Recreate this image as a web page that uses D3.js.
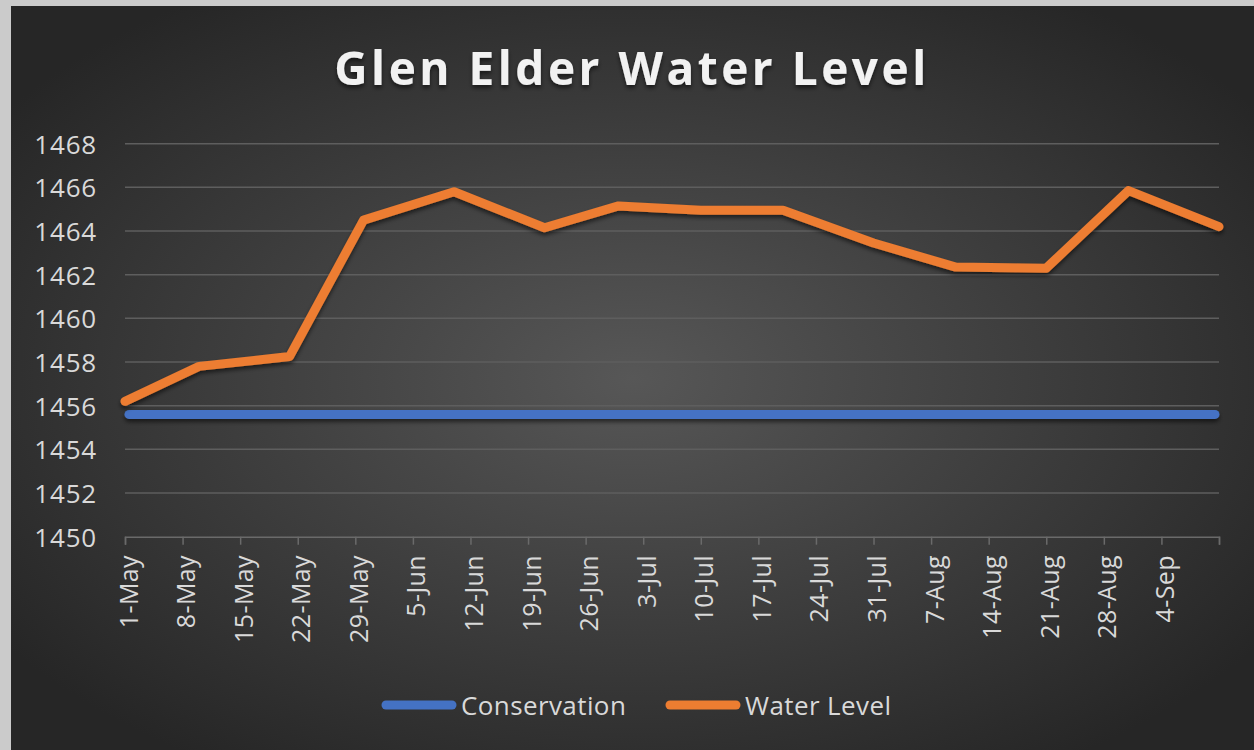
<!DOCTYPE html>
<html>
<head>
<meta charset="utf-8">
<script src="https://cdnjs.cloudflare.com/ajax/libs/d3/7.8.5/d3.min.js"></script>
<style>
  html, body { margin: 0; padding: 0; background: #cbcbcb; }
  svg { display: block; }
</style>
</head>
<body>
<svg id="chart"></svg>
<script>
// data
const dates = ["2019-05-01", "2019-05-10", "2019-05-21", "2019-05-30", "2019-06-10", "2019-06-21", "2019-06-30",
               "2019-07-10", "2019-07-20", "2019-07-31", "2019-08-10", "2019-08-21", "2019-08-31", "2019-09-11"];
const waterLevel = [1456.2, 1457.8, 1458.25, 1464.5, 1465.8, 1464.15, 1465.15,
                    1464.95, 1464.95, 1463.45, 1462.35, 1462.3, 1465.85, 1464.2];
const conservation = 1455.6;
const yTicks = [1450, 1452, 1454, 1456, 1458, 1460, 1462, 1464, 1466, 1468];
const seriesNames = ["Conservation", "Water Level"];
const seriesColors = ["#4472c4", "#ed7d31"];

const W = 1254, H = 750;
const svg = d3.select("#chart").attr("width", W).attr("height", H);
const parse = d3.timeParse("%Y-%m-%d");
const pts = dates.map((d, i) => ({ date: parse(d), value: waterLevel[i] }));

// fond radial sombre
const defs = svg.append("defs");
const grad = defs.append("radialGradient").attr("id", "bg").attr("cx", "50%").attr("cy", "50%").attr("r", "62%");
grad.append("stop").attr("offset", "0%").attr("stop-color", "#575757");
grad.append("stop").attr("offset", "100%").attr("stop-color", "#262626");

// ombre portée (userSpaceOnUse sinon la ligne horizontale disparaît)
const shadow = defs.append("filter").attr("id", "shadow")
    .attr("filterUnits", "userSpaceOnUse")
    .attr("x", 0).attr("y", 0).attr("width", W).attr("height", H);
shadow.append("feDropShadow").attr("dx", 0).attr("dy", 3).attr("stdDeviation", 2)
    .attr("flood-color", "#000").attr("flood-opacity", 0.55);

svg.append("rect").attr("x", 11).attr("y", 6).attr("width", W - 11).attr("height", H - 6)
    .attr("fill", "url(#bg)");

const x = d3.scaleTime()
    .domain([parse("2019-05-01"), parse("2019-09-11")])
    .range([125, 1219]);
const y = d3.scaleLinear().domain([1450, 1468]).range([536.7, 143.7]);

// titre
svg.append("text")
    .attr("x", 632).attr("y", 85)
    .attr("text-anchor", "middle")
    .attr("font-family", "Open Sans, sans-serif")
    .attr("font-weight", 700)
    .attr("font-size", 46)
    .attr("letter-spacing", 3.5)
    .attr("fill", "#f2f2f2")
    .attr("filter", "url(#shadow)")
    .text("Glen Elder Water Level");

// grille horizontale
svg.append("g").selectAll("line")
    .data(yTicks.filter(t => t !== 1450))
    .join("line")
    .attr("x1", x.range()[0]).attr("x2", x.range()[1])
    .attr("y1", d => y(d)).attr("y2", d => y(d))
    .attr("stroke", "#5e5e5e").attr("stroke-width", 1.5);

// axe Y
const yAxis = svg.append("g")
    .attr("transform", "translate(97,0)")
    .call(d3.axisLeft(y).tickValues(yTicks).tickSize(0).tickPadding(0).tickFormat(d3.format("d")));
yAxis.select(".domain").remove();
yAxis.selectAll("text")
    .attr("font-family", "Open Sans, sans-serif")
    .attr("font-size", 26)
    .attr("letter-spacing", 0.8)
    .attr("fill", "#d9d9d9")
    .attr("dy", "0.36em");

// axe X, une graduation par semaine
const weekTicks = d3.timeDay.range(x.domain()[0], d3.timeDay.offset(x.domain()[1], 1), 7);
const fmt = d3.timeFormat("%-d-%b");
const xAxis = svg.append("g")
    .attr("transform", `translate(0,${y(1450)})`)
    .call(d3.axisBottom(x).tickValues(weekTicks).tickSize(8).tickFormat(""));
xAxis.select(".domain").attr("stroke", "#6a6a6a").attr("stroke-width", 1.5);
xAxis.selectAll(".tick line").attr("stroke", "#6a6a6a").attr("stroke-width", 1.5);

svg.append("g").selectAll("text")
    .data(weekTicks.filter(d => +d < +x.domain()[1]))
    .join("text")
    .attr("transform", d => `translate(${x(d)},555) rotate(-90)`)
    .attr("text-anchor", "end")
    .attr("dy", "0.5em")
    .attr("font-family", "Open Sans, sans-serif")
    .attr("font-size", 25)
    .attr("letter-spacing", 0.4)
    .attr("fill", "#d9d9d9")
    .text(d => fmt(d));

// séries
svg.append("line")
    .attr("x1", x.range()[0] + 4).attr("x2", x.range()[1] - 4)
    .attr("y1", y(conservation)).attr("y2", y(conservation))
    .attr("stroke", seriesColors[0]).attr("stroke-width", 9)
    .attr("stroke-linecap", "round")
    .attr("filter", "url(#shadow)");

const line = d3.line().x(d => x(d.date)).y(d => y(d.value));
svg.append("path")
    .datum(pts)
    .attr("d", line)
    .attr("fill", "none")
    .attr("stroke", seriesColors[1]).attr("stroke-width", 9)
    .attr("stroke-linejoin", "round").attr("stroke-linecap", "round")
    .attr("filter", "url(#shadow)");

// légende
const legendX = [382, 666];
const legend = svg.append("g").selectAll("g")
    .data(seriesNames)
    .join("g")
    .attr("transform", (d, i) => `translate(${legendX[i]},705)`);
legend.append("line")
    .attr("x1", 4).attr("x2", 70)
    .attr("stroke", (d, i) => seriesColors[i]).attr("stroke-width", 9)
    .attr("stroke-linecap", "round");
legend.append("text")
    .attr("x", 79).attr("y", 10)
    .attr("font-family", "Open Sans, sans-serif")
    .attr("font-size", 26)
    .attr("letter-spacing", 0.4)
    .attr("fill", "#d9d9d9")
    .text(d => d);
</script>
</body>
</html>
